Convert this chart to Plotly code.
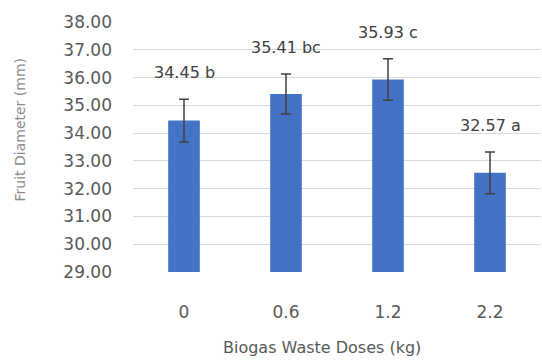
import plotly.graph_objects as go

# Fruit diameter by biogas waste dose
doses = ["0", "0.6", "1.2", "2.2"]
diameter = [34.45, 35.41, 35.93, 32.57]
std_err = [0.77, 0.72, 0.75, 0.75]
letters = ["b", "bc", "c", "a"]
y_ticks = [29, 30, 31, 32, 33, 34, 35, 36, 37, 38]

BAR = "#4472C4"
TXT = "#595959"
FONT = "DejaVu Sans"

fig = go.Figure()
fig.add_trace(go.Bar(
    x=doses,
    y=diameter,
    marker=dict(color=BAR, line=dict(width=0)),
    width=0.31,
    error_y=dict(type="data", array=std_err, visible=True,
                 color="#404040", thickness=1.5, width=5),
    hoverinfo="skip",
))

# value + significance letter above each error bar (x by category index)
for i, (v, e, l) in enumerate(zip(diameter, std_err, letters)):
    fig.add_annotation(
        x=i, y=v + e, text=f"{v:.2f} {l}", showarrow=False,
        yanchor="bottom", yshift=15,
        font=dict(family=FONT, size=16, color="#404040"),
    )

fig.add_annotation(
    xref="paper", yref="paper", x=0.463, y=-0.303,
    text="Biogas Waste Doses (kg)", showarrow=False,
    xanchor="center", yanchor="middle",
    font=dict(family=FONT, size=16, color=TXT),
)
fig.add_annotation(
    xref="paper", yref="paper", x=-0.277, y=0.57,
    text="Fruit Diameter (mm)", showarrow=False, textangle=-90,
    xanchor="center", yanchor="middle",
    font=dict(family=FONT, size=14, color="#8c8c8c"),
)

fig.update_layout(
    width=542, height=360,
    margin=dict(l=133, r=1, t=22, b=88),
    paper_bgcolor="white", plot_bgcolor="white",
    showlegend=False,
    bargap=0.69,
    xaxis=dict(
        type="category", showgrid=False, zeroline=False, showline=False,
        ticks="", ticklabelstandoff=28,
        tickfont=dict(family=FONT, size=17, color=TXT),
    ),
    yaxis=dict(
        range=[29, 38], tickvals=y_ticks,
        ticktext=[f"{t:.2f}" for t in y_ticks],
        showgrid=True, gridcolor="#d9d9d9", gridwidth=1,
        zeroline=False, showline=False, ticks="",
        ticklabelstandoff=20,
        tickfont=dict(family=FONT, size=17, color=TXT),
    ),
)

fig.write_html("out.html")
